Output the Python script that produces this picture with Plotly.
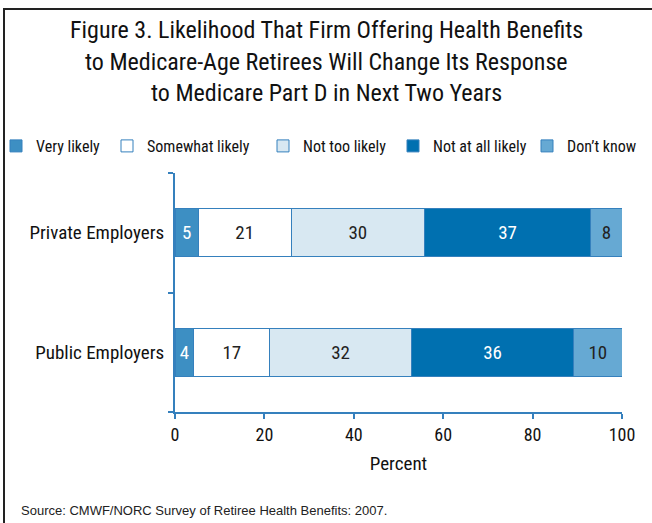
import plotly.graph_objects as go

categories = ["Private Employers", "Public Employers"]
series_names = ["Very likely", "Somewhat likely", "Not too likely", "Not at all likely", "Don\u2019t know"]
# bar lengths as drawn (percent)
very_likely = [5.2, 4.2]
somewhat_likely = [20.8, 17.0]
not_too_likely = [29.8, 31.7]
not_at_all_likely = [37.2, 36.3]
dont_know = [7.0, 10.8]
# printed labels
very_likely_labels = ["5", "4"]
somewhat_likely_labels = ["21", "17"]
not_too_likely_labels = ["30", "32"]
not_at_all_likely_labels = ["37", "36"]
dont_know_labels = ["8", "10"]
x_ticks = [0, 20, 40, 60, 80, 100]
title_lines = ["Figure 3. Likelihood That Firm Offering Health Benefits",
               "to Medicare-Age Retirees Will Change Its Response",
               "to Medicare Part D in Next Two Years"]
source_text = "Source: CMWF/NORC Survey of Retiree Health Benefits: 2007."

values = [very_likely, somewhat_likely, not_too_likely, not_at_all_likely, dont_know]
labels = [very_likely_labels, somewhat_likely_labels, not_too_likely_labels,
          not_at_all_likely_labels, dont_know_labels]
colors = ["#3d8fc3", "#ffffff", "#d8e8f2", "#0070b0", "#66a9d3"]
text_colors = ["#ffffff", "#222222", "#222222", "#ffffff", "#222222"]
legend_text_x = [36, 147, 303, 433, 567]

FONT = "Roboto Condensed, Liberation Sans Narrow, sans-serif"
AX = "#3580bd"

W, H = 652, 523
L, R, T, B = 175, 30, 173, 111
pw, ph = W - L - R, H - T - B

def px(x):
    return (x - L) / pw

def py(y):
    return 1 - (y - T) / ph

fig = go.Figure()
legend_ids = ["legend", "legend2", "legend3", "legend4", "legend5"]
for name, vals, lab, c, tc, lid in zip(series_names, values, labels, colors, text_colors, legend_ids):
    fig.add_trace(go.Bar(
        y=categories, x=vals, name=name, orientation="h", legend=lid,
        marker=dict(color=c, line=dict(color=AX, width=1)),
        text=lab, textposition="inside",
        insidetextanchor="middle", constraintext="none",
        textfont=dict(color=tc, size=19, family=FONT),
        width=0.4, hoverinfo="skip",
    ))

legend_layout = {}
for lid, tx in zip(legend_ids, legend_text_x):
    legend_layout[lid] = dict(orientation="h", x=px(tx - 40), y=py(146), xanchor="left", yanchor="middle",
                              xref="paper", yref="paper",
                              font=dict(size=16, family=FONT, color="#111111"),
                              itemwidth=30, bgcolor="rgba(0,0,0,0)", borderwidth=0)

fig.update_layout(
    width=W, height=H, barmode="stack",
    margin=dict(l=L, r=R, t=T, b=B, pad=0, autoexpand=False),
    paper_bgcolor="white", plot_bgcolor="white",
    font=dict(family=FONT, color="#111111"),
    showlegend=True,
    **legend_layout,
)
fig.update_xaxes(range=[0, 100], tickvals=x_ticks, showgrid=False, zeroline=False,
                 showline=True, linecolor=AX, linewidth=2, ticks="outside", tickcolor=AX,
                 ticklen=5, tickwidth=2, tickfont=dict(size=18, family=FONT, color="#111111"),
                 title=dict(text="Percent", font=dict(size=19, family=FONT, color="#111111"), standoff=13),
                 automargin=False)
fig.update_yaxes(categoryorder="array", categoryarray=categories[::-1], range=[-0.5, 1.5],
                 showgrid=False, showline=True, linecolor=AX, linewidth=2,
                 ticks="outside", tickson="boundaries", tickcolor=AX, ticklen=5, tickwidth=2,
                 tickfont=dict(size=19, family=FONT, color="#111111"), ticklabelstandoff=5,
                 automargin=False)

for i, line in enumerate(title_lines):
    fig.add_annotation(text=line, xref="paper", yref="paper", x=px(326), y=py(30 + i * 31.5),
                       xanchor="center", yanchor="middle", showarrow=False,
                       font=dict(size=24, family=FONT, color="#111111"))

fig.add_annotation(text=source_text, xref="paper", yref="paper", x=px(19), y=py(510),
                   xanchor="left", yanchor="middle", showarrow=False,
                   font=dict(size=13, family="Liberation Sans, Arial, sans-serif", color="#222222"))
# frame: left and top edges
fig.add_shape(type="line", xref="paper", yref="paper", x0=px(3), x1=px(652), y0=py(9), y1=py(9),
              line=dict(color="#222222", width=2), layer="above")
fig.add_shape(type="line", xref="paper", yref="paper", x0=px(4), x1=px(4), y0=py(8), y1=py(523),
              line=dict(color="#222222", width=2), layer="above")

fig.write_html("out.html", config={"displayModeBar": False},
               post_script="document.body.style.margin='0px';")
